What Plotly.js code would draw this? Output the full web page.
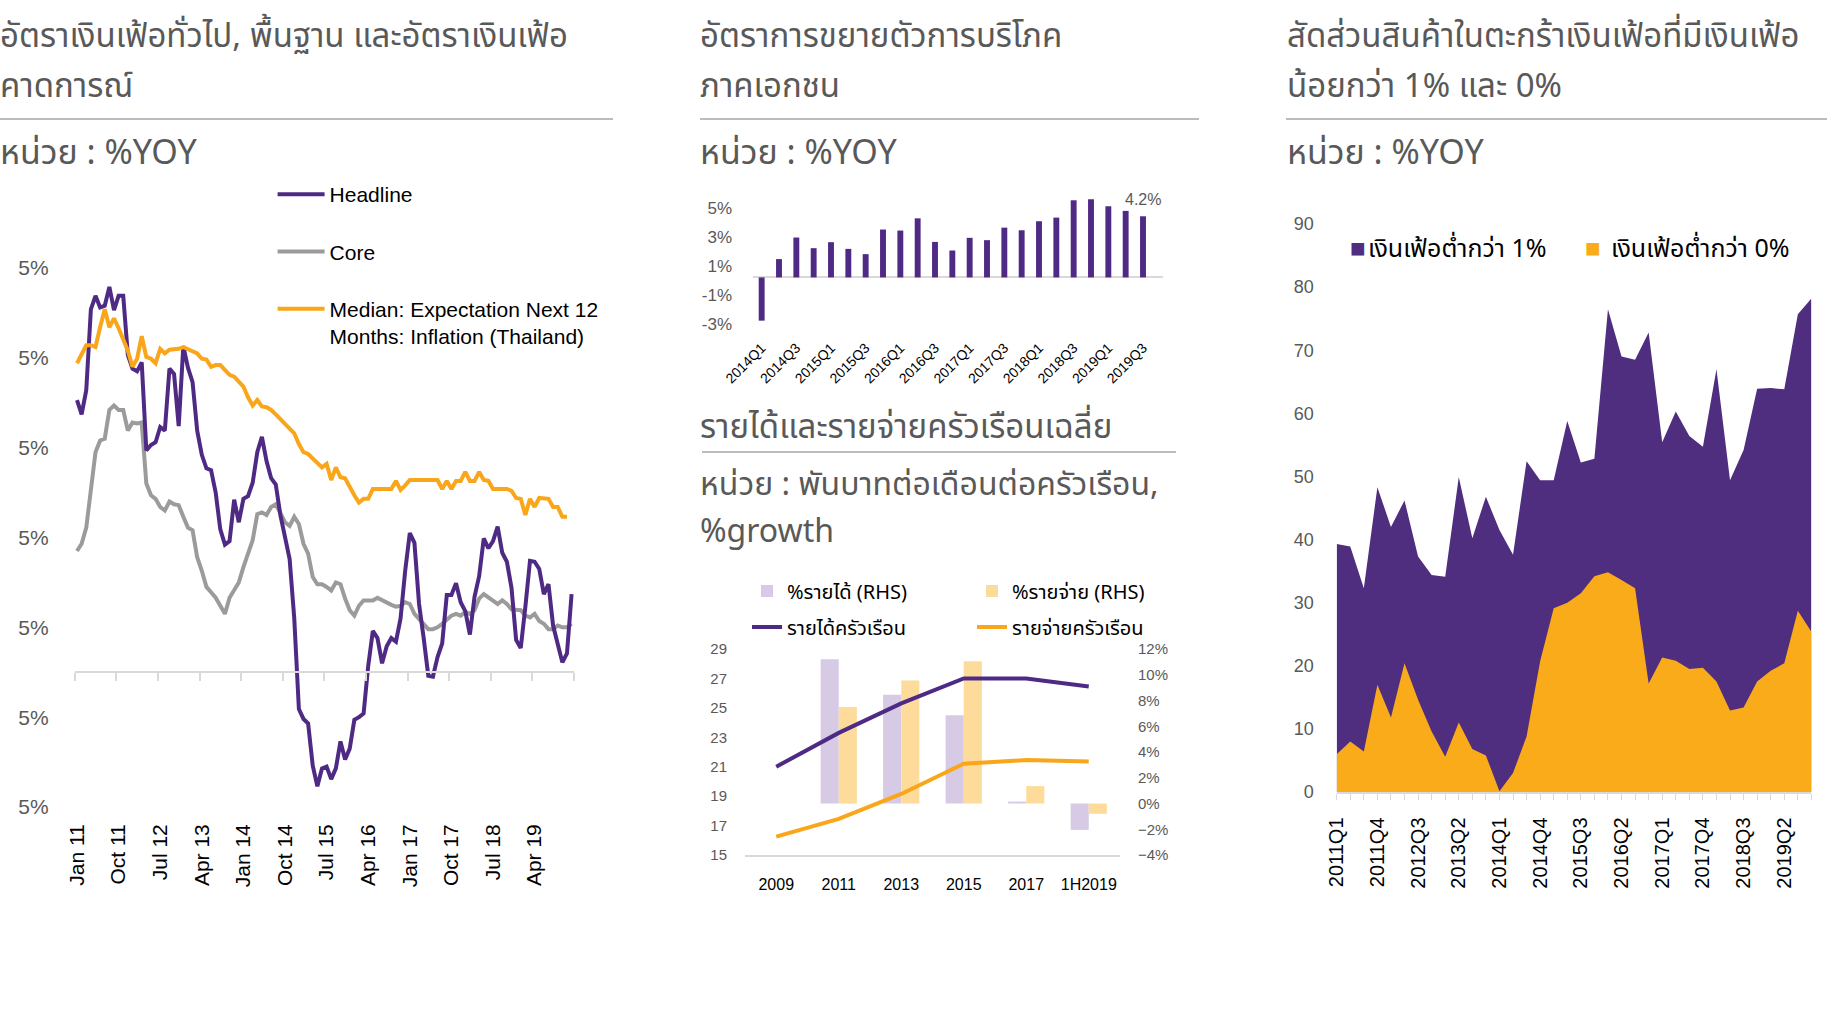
<!DOCTYPE html>
<html><head><meta charset="utf-8">
<script src="https://cdn.plot.ly/plotly-3.0.1.min.js"></script>
<style>html,body{margin:0;padding:0;background:#fff;overflow:hidden}#chart{width:1846px;height:1034px}</style>
</head><body><div id="chart"></div>
<script>
// ---------- DATA ----------
// Left: monthly inflation Jan 2011 - Dec 2019 (%YOY)
const leftTickLabels = ['Jan 11','Oct 11','Jul 12','Apr 13','Jan 14','Oct 14','Jul 15','Apr 16','Jan 17','Oct 17','Jul 18','Apr 19'];
const headline = [
 3.03,2.87,3.14,4.04,4.19,4.06,4.08,4.29,4.03,4.19,4.19,3.53,
 3.38,3.35,3.45,2.47,2.53,2.56,2.73,2.69,3.38,3.32,2.74,3.63,
 3.39,3.23,2.69,2.42,2.27,2.25,2.00,1.59,1.42,1.46,1.92,1.67,
 1.93,1.96,2.11,2.45,2.62,2.35,2.16,2.09,1.75,1.48,1.26,0.60,
 -0.41,-0.52,-0.57,-1.04,-1.27,-1.07,-1.05,-1.19,-1.07,-0.77,-0.97,-0.85,
 -0.53,-0.50,-0.46,0.07,0.46,0.38,0.10,0.29,0.38,0.34,0.60,1.13,
 1.55,1.44,0.76,0.38,-0.04,-0.05,0.17,0.32,0.86,0.86,0.99,0.78,
 0.68,0.42,0.84,1.07,1.49,1.38,1.46,1.62,1.33,1.23,0.94,0.36,
 0.27,0.73,1.24,1.23,1.15,0.87,0.98,0.52,0.32,0.11,0.21,0.87];
const core = [
 1.35,1.43,1.61,2.05,2.45,2.58,2.60,2.92,2.97,2.92,2.92,2.69,
 2.78,2.77,2.78,2.10,1.97,1.93,1.84,1.80,1.90,1.87,1.86,1.73,
 1.61,1.58,1.28,1.13,0.95,0.89,0.83,0.74,0.65,0.83,0.91,1.00,
 1.17,1.32,1.47,1.76,1.78,1.75,1.84,1.87,1.76,1.67,1.63,1.73,
 1.65,1.43,1.32,1.06,0.98,0.98,0.95,0.91,1.00,0.98,0.82,0.69,
 0.63,0.74,0.80,0.80,0.80,0.83,0.80,0.78,0.75,0.73,0.74,0.78,
 0.76,0.65,0.59,0.54,0.48,0.48,0.50,0.54,0.59,0.63,0.65,0.63,
 0.67,0.65,0.69,0.82,0.87,0.83,0.80,0.76,0.80,0.76,0.70,0.70,
 0.69,0.63,0.61,0.65,0.57,0.54,0.48,0.48,0.52,0.50,0.50,0.54];
const expectation = [
 3.44,3.55,3.64,3.64,3.62,3.84,4.04,3.84,3.94,3.83,3.71,3.58,
 3.40,3.49,3.74,3.51,3.49,3.44,3.60,3.55,3.59,3.59,3.60,3.62,
 3.60,3.58,3.55,3.49,3.48,3.40,3.42,3.42,3.36,3.31,3.29,3.23,
 3.18,3.06,2.97,3.03,2.96,2.95,2.92,2.87,2.82,2.77,2.71,2.66,
 2.54,2.45,2.43,2.38,2.32,2.28,2.32,2.14,2.28,2.17,2.16,2.06,
 1.97,1.89,1.93,1.93,2.04,2.04,2.04,2.04,2.04,2.13,2.03,2.08,
 2.14,2.14,2.14,2.14,2.14,2.14,2.14,2.04,2.13,2.04,2.13,2.13,
 2.23,2.13,2.13,2.23,2.14,2.13,2.04,2.04,2.04,2.04,2.02,1.94,
 1.93,1.75,1.93,1.84,1.94,1.93,1.93,1.84,1.84,1.73,1.73,null];
const leftYTicks = [-1.5,-0.5,0.5,1.5,2.5,3.5,4.5];
const leftYTickText = ['5%','5%','5%','5%','5%','5%','5%'];

// Middle top: private consumption growth (%YOY)
const consQuarters = ['2014Q1','2014Q2','2014Q3','2014Q4','2015Q1','2015Q2','2015Q3','2015Q4',
 '2016Q1','2016Q2','2016Q3','2016Q4','2017Q1','2017Q2','2017Q3','2017Q4',
 '2018Q1','2018Q2','2018Q3','2018Q4','2019Q1','2019Q2','2019Q3'];
const consumption = [-2.97,1.26,2.74,2.01,2.42,1.96,1.60,3.29,3.22,4.06,2.44,1.85,
 2.72,2.56,3.42,3.24,3.86,4.11,5.30,5.37,4.89,4.57,4.20];
const consYTicks = [-3.2,-1.2,0.8,2.8,4.8];
const consYTickText = ['-3%','-1%','1%','3%','5%'];

// Middle bottom: household income & expenditure
const hhYears = ['2009','2011','2013','2015','2017','1H2019'];
const hhIncome = [21.0,23.3,25.3,27.0,27.0,26.45];
const hhExpense = [16.25,17.45,19.15,21.2,21.45,21.35];
const hhIncomeGrowth = [null,11.2,8.45,6.85,0.15,-2.05];
const hhExpenseGrowth = [null,7.5,9.55,11.05,1.35,-0.8];

// Right: share of CPI basket items with inflation < 1% and < 0%
const basketQuarters = [];
for (let y = 2011; y <= 2019; y++) for (let q = 1; q <= 4; q++) basketQuarters.push(y + 'Q' + q);
const below1 = [39.3,38.9,32.3,48.3,42.0,46.2,37.3,34.4,34.1,49.9,40.2,46.8,
 41.5,37.6,52.4,49.4,49.4,58.8,52.2,52.8,76.5,69.0,68.5,72.8,
 55.4,60.3,56.4,54.7,67.0,49.4,54.2,63.9,64.0,63.8,75.7,78.2];
const below0 = [6.0,8.0,6.4,17.0,11.8,20.4,14.6,9.6,5.6,11.0,6.8,5.8,
 0.1,3.0,8.8,20.7,29.1,30.0,31.5,34.2,34.8,33.6,32.3,17.2,
 21.3,20.8,19.5,19.7,17.5,12.9,13.4,17.5,19.2,20.4,28.7,25.4];

// ---------- STYLE ----------
const W = 1846, H = 1034;
const px = v => v / W;
const py = v => 1 - v / H;
const THAI = '"Noto Sans Thai","Noto Sans Thai Looped","Noto Sans","Liberation Sans",sans-serif';
const LAT = '"Liberation Sans",Arial,sans-serif';
const PURPLE = '#4E2A84', ORANGE = '#F9A61A', GREY = '#9B9B9B';
const AREA_P = '#4F2D7F', AREA_O = '#FAAB1A';
const TXT = '#595959', RULE = '#A6A6A6', AXL = '#D9D9D9';

const idx = headline.map((_, i) => i);
const leftTickVals = leftTickLabels.map((_, k) => k * 9);
const leftBounds = [];
for (let k = 0; k <= idx.length; k += 9) leftBounds.push(k - 0.5);
const leftRange = [-0.5, idx.length - 0.5];
const leftYRange = [-1.5, 4.5];
const leftDom = [py(807), py(268)];
const zeroPos = leftDom[0] + (0 - leftYRange[0]) / (leftYRange[1] - leftYRange[0]) * (leftDom[1] - leftDom[0]);

const traces = [
  {type:'scatter', mode:'lines', name:'Headline', x: idx, y: headline, xaxis:'x2', yaxis:'y',
   line:{color:PURPLE, width:4}, legend:'legend', legendgroup:'g1', hoverinfo:'skip'},
  {type:'scatter', mode:'lines', name:'Core', x: idx, y: core, xaxis:'x', yaxis:'y',
   line:{color:GREY, width:4}, legend:'legend', legendgroup:'g2', hoverinfo:'skip'},
  {type:'scatter', mode:'lines', name:'Median: Expectation Next 12<br>Months: Inflation (Thailand)', x: idx, y: expectation, xaxis:'x2', yaxis:'y',
   line:{color:ORANGE, width:4}, legend:'legend', legendgroup:'g3', hoverinfo:'skip'},

  {type:'bar', x: consQuarters, y: consumption, xaxis:'x3', yaxis:'y3', width:0.34,
   marker:{color:PURPLE}, showlegend:false, hoverinfo:'skip'},

  {type:'bar', name:'%รายได้ (RHS)', x: hhYears, y: hhIncomeGrowth, xaxis:'x4', yaxis:'y4',
   width:0.29, offset:-0.29, marker:{color:'#D6CAE4'}, legend:'legend2', hoverinfo:'skip'},
  {type:'bar', name:'%รายจ่าย (RHS)', x: hhYears, y: hhExpenseGrowth, xaxis:'x4', yaxis:'y4',
   width:0.29, offset:0, marker:{color:'#FDDC9B'}, legend:'legend2', hoverinfo:'skip'},
  {type:'scatter', mode:'lines', name:'รายได้ครัวเรือน', x: hhYears, y: hhIncome, xaxis:'x4', yaxis:'y5',
   line:{color:PURPLE, width:4}, legend:'legend3', hoverinfo:'skip'},
  {type:'scatter', mode:'lines', name:'รายจ่ายครัวเรือน', x: hhYears, y: hhExpense, xaxis:'x4', yaxis:'y5',
   line:{color:ORANGE, width:4}, legend:'legend3', hoverinfo:'skip'},

  {type:'scatter', mode:'none', name:'เงินเฟ้อต่ำกว่า 1%', x: basketQuarters, y: below1, xaxis:'x5', yaxis:'y6',
   fill:'tozeroy', fillcolor:AREA_P, showlegend:false, hoverinfo:'skip'},
  {type:'scatter', mode:'none', name:'เงินเฟ้อต่ำกว่า 0%', x: basketQuarters, y: below0, xaxis:'x5', yaxis:'y6',
   fill:'tozeroy', fillcolor:AREA_O, showlegend:false, hoverinfo:'skip'}
];

const consTickVals = consQuarters.filter((_, i) => i % 2 === 0);
const basketTickText = basketQuarters.map((q, i) => i % 3 === 0 ? q : '');

function ann(x, y, text, size, color, family, extra) {
  return Object.assign({xref:'paper', yref:'paper', x: px(x), y: py(y), text: text, showarrow:false,
    xanchor:'left', yanchor:'middle', align:'left', font:{family: family || THAI, size: size, color: color || TXT}}, extra || {});
}
function rule(x0, x1, y) {
  return {type:'line', xref:'paper', yref:'paper', x0: px(x0), x1: px(x1), y0: py(y), y1: py(y),
    line:{color: RULE, width: 1.5}};
}

const annotations = [
  ann(-2, 37, 'อัตราเงินเฟ้อทั่วไป, พื้นฐาน และอัตราเงินเฟ้อ', 33),
  ann(-2, 87, 'คาดการณ์', 33),
  ann(-2, 153, 'หน่วย : %YOY', 34),
  ann(698, 37, 'อัตราการขยายตัวการบริโภค', 33),
  ann(698, 87, 'ภาคเอกชน', 33),
  ann(698, 153, 'หน่วย : %YOY', 34),
  ann(698, 428, 'รายได้และรายจ่ายครัวเรือนเฉลี่ย', 33),
  ann(698, 485, 'หน่วย : พันบาทต่อเดือนต่อครัวเรือน,', 32),
  ann(698, 532, '%growth', 32),
  ann(1285, 37, 'สัดส่วนสินค้าในตะกร้าเงินเฟ้อที่มีเงินเฟ้อ', 33),
  ann(1285, 87, 'น้อยกว่า 1% และ 0%', 33),
  ann(1285, 153, 'หน่วย : %YOY', 34),
  // right chart legend
  ann(1348, 248, '■', 26, AREA_P, LAT),
  ann(1366, 249, 'เงินเฟ้อต่ำกว่า 1%', 25, '#000'),
  ann(1583, 248, '■', 26, AREA_O, LAT),
  ann(1609, 249, 'เงินเฟ้อต่ำกว่า 0%', 25, '#000'),
  // last-bar label
  {xref:'x3', yref:'y3', x: consQuarters[consQuarters.length - 1], y: consumption[consumption.length - 1],
   text: consumption[consumption.length - 1].toFixed(1) + '%', showarrow:false, yanchor:'bottom', yshift:6,
   font:{family: LAT, size:16, color: TXT}}
];

const shapes = [rule(0, 613, 119), rule(700, 1199, 119), rule(702, 1176, 452), rule(1286, 1827, 119)];

const layout = {
  width: W, height: H, margin:{l:0, r:0, t:0, b:0},
  paper_bgcolor:'#fff', plot_bgcolor:'rgba(0,0,0,0)',
  font:{family: LAT, color:'#000'},
  barmode:'overlay',
  annotations: annotations, shapes: shapes,
  // left chart
  xaxis:{domain:[px(74.7), px(573.9)], range: leftRange, anchor:'y', tickvals: leftTickVals, ticktext: leftTickLabels,
    tickangle:-90, tickfont:{family: LAT, size:21, color:'#000'}, showline:false, showgrid:false, zeroline:false,
    ticks:'', ticklabelstandoff: 12},
  xaxis2:{overlaying:'x', anchor:'free', position: zeroPos, range: leftRange, tickvals: leftBounds,
    showticklabels:false, ticks:'outside', ticklen:8, tickwidth:2, tickcolor: AXL,
    showline:true, linecolor: AXL, linewidth:2, showgrid:false, zeroline:false},
  yaxis:{domain: leftDom, range: leftYRange, anchor:'x', tickvals: leftYTicks, ticktext: leftYTickText,
    tickfont:{family: LAT, size:21, color: TXT}, showgrid:false, zeroline:false, showline:false, ticks:'',
    ticklabelstandoff: 25},
  // middle top
  xaxis3:{domain:[px(753), px(1163)], anchor:'y3', type:'category', tickvals: consTickVals, ticktext: consTickVals,
    tickangle:-45, tickfont:{family: LAT, size:14, color:'#000'}, showline:false, showgrid:false, zeroline:false,
    ticks:'', ticklabelstandoff: 12},
  yaxis3:{domain:[py(324), py(193)], range:[-3.2, 5.8], anchor:'x3', tickvals: consYTicks, ticktext: consYTickText,
    tickfont:{family: LAT, size:17, color: TXT}, showgrid:false, zeroline:true, zerolinecolor: AXL, zerolinewidth:2,
    showline:false, ticks:'', ticklabelstandoff: 20},
  // middle bottom
  xaxis4:{domain:[px(745), px(1120)], anchor:'y4', type:'category', tickfont:{family: LAT, size:16, color:'#000'},
    showline:true, linecolor: AXL, linewidth:2, showgrid:false, zeroline:false, ticks:'', ticklabelstandoff: 14},
  yaxis4:{domain:[py(855), py(649)], range:[-4, 12], anchor:'x4', side:'right', tick0:-4, dtick:2, ticksuffix:'%',
    tickfont:{family: LAT, size:15, color: TXT}, showgrid:false, zeroline:false, showline:false, ticks:'',
    ticklabelstandoff: 17},
  yaxis5:{overlaying:'y4', anchor:'x4', side:'left', range:[15, 29], tick0:15, dtick:2,
    tickfont:{family: LAT, size:15, color: TXT}, showgrid:false, zeroline:false, showline:false, ticks:'',
    ticklabelstandoff: 17},
  // right chart
  xaxis5:{domain:[px(1336.7), px(1811.4)], anchor:'y6', type:'category', range:[0, basketQuarters.length - 1],
    tickvals: basketQuarters, ticktext: basketTickText, tickangle:-90,
    tickfont:{family: LAT, size:20, color:'#000'}, showline:true, linecolor: AXL, linewidth:1.5,
    ticks:'outside', ticklen:6, tickcolor: AXL, showgrid:false, zeroline:false, ticklabelstandoff: 10},
  yaxis6:{domain:[py(792), py(224)], range:[0, 90], anchor:'x5', dtick:10,
    tickfont:{family: LAT, size:18, color: TXT}, showgrid:false, zeroline:false, showline:false, ticks:'',
    ticklabelstandoff: 22},
  legend:{x: px(272.6), xanchor:'left', y: py(174), yanchor:'top', orientation:'v', traceorder:'grouped',
    tracegroupgap: 27, valign:'top', itemwidth: 47, bgcolor:'rgba(0,0,0,0)', font:{family: LAT, size:21, color:'#000'}},
  legend2:{x: px(747), xanchor:'left', y: py(591), yanchor:'middle', orientation:'h', entrywidth:180,
    bgcolor:'rgba(0,0,0,0)', font:{family: THAI, size:20, color:'#000'}},
  legend3:{x: px(747), xanchor:'left', y: py(627), yanchor:'middle', orientation:'h', entrywidth:180,
    bgcolor:'rgba(0,0,0,0)', font:{family: THAI, size:20, color:'#000'}}
};

Plotly.newPlot('chart', traces, layout, {displayModeBar:false, staticPlot:true});
</script>
</body></html>
